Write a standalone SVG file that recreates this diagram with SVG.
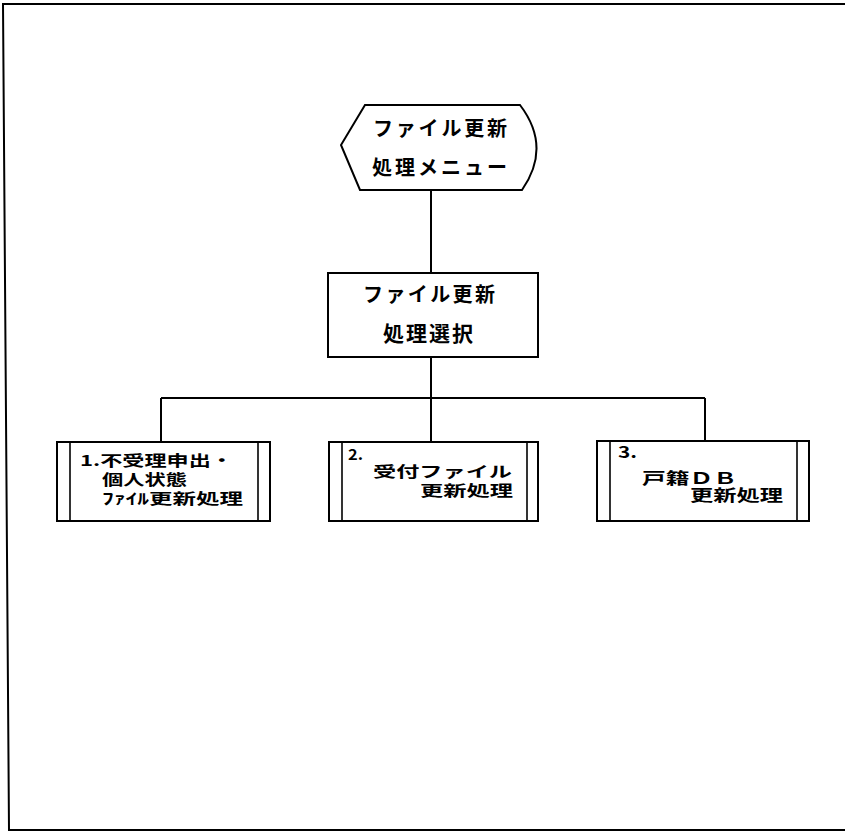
<svg xmlns="http://www.w3.org/2000/svg" width="845" height="832" viewBox="0 0 845 832">
<style>
.sh{fill:#fff;stroke:#000;stroke-width:2}
.bar{fill:none;stroke:#000;stroke-width:1.6}
.cn{fill:none;stroke:#000;stroke-width:2}
.t{font-family:"Noto Sans CJK JP","Noto Sans CJK SC",sans-serif;font-weight:bold;fill:#000;dominant-baseline:central}
</style>
<rect width="845" height="832" fill="#fff"/>
<g id="frame">
<path d="M845,4 L3,4 L9,830 L845,830" fill="none" stroke="#000" stroke-width="2"/>
</g>
<g id="connectors">
<line class="cn" x1="431" y1="190" x2="431" y2="273"/>
<line class="cn" x1="431" y1="357" x2="431" y2="442"/>
<line class="cn" x1="161" y1="398" x2="705" y2="398"/>
<line class="cn" x1="161" y1="398" x2="161" y2="442"/>
<line class="cn" x1="705" y1="398" x2="705" y2="441"/>
</g>
<g id="menu">
<path class="sh" d="M365,105 L520,105 Q552,147 522,190 L360,190 L341,145 Z"/>
<text class="t" font-size="20"><tspan x="373" y="127" textLength="134" lengthAdjust="spacing">ファイル更新</tspan><tspan x="372" y="166" textLength="135" lengthAdjust="spacing">処理メニュー</tspan></text>
</g>
<g id="select">
<rect class="sh" x="328" y="273" width="210" height="84"/>
<text class="t" font-size="20"><tspan x="363" y="293" textLength="132" lengthAdjust="spacing">ファイル更新</tspan><tspan x="383" y="332" font-size="21" textLength="90" lengthAdjust="spacing">処理選択</tspan></text>
</g>
<g id="proc1">
<rect class="sh" x="57" y="442" width="213" height="79"/>
<line class="bar" x1="70" y1="442" x2="70" y2="521"/>
<line class="bar" x1="258" y1="442" x2="258" y2="521"/>
<text class="t" font-size="15"><tspan x="80" y="459" textLength="153" lengthAdjust="spacingAndGlyphs">1.不受理申出・</tspan><tspan x="102" y="478" textLength="85" lengthAdjust="spacingAndGlyphs">個人状態</tspan><tspan x="102" y="497" textLength="141" lengthAdjust="spacingAndGlyphs">ﾌｧｲﾙ更新処理</tspan></text>
</g>
<g id="proc2">
<rect class="sh" x="329" y="442" width="209" height="79"/>
<line class="bar" x1="342" y1="442" x2="342" y2="521"/>
<line class="bar" x1="527" y1="442" x2="527" y2="521"/>
<text class="t" font-size="15"><tspan x="348" y="453" textLength="15" lengthAdjust="spacingAndGlyphs">2.</tspan><tspan x="373" y="470" textLength="139" lengthAdjust="spacingAndGlyphs">受付ファイル</tspan><tspan x="420" y="489" textLength="93" lengthAdjust="spacingAndGlyphs">更新処理</tspan></text>
</g>
<g id="proc3">
<rect class="sh" x="597" y="441" width="212" height="80"/>
<line class="bar" x1="610" y1="441" x2="610" y2="521"/>
<line class="bar" x1="797" y1="441" x2="797" y2="521"/>
<text class="t" font-size="16"><tspan x="618" y="451" textLength="19" lengthAdjust="spacingAndGlyphs">3.</tspan><tspan x="642" y="477" textLength="95" lengthAdjust="spacingAndGlyphs">戸籍ＤＢ</tspan><tspan x="690" y="494" textLength="93" lengthAdjust="spacingAndGlyphs">更新処理</tspan></text>
</g>
</svg>
